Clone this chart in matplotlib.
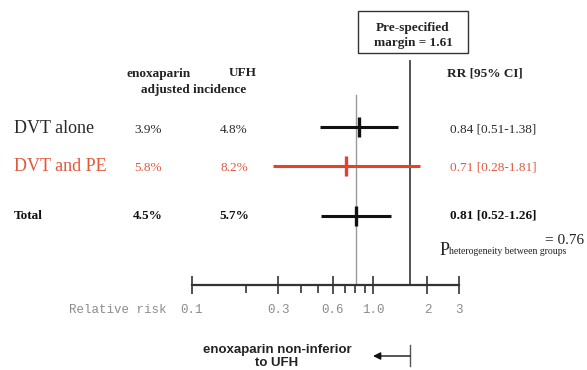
import numpy as np
import matplotlib
matplotlib.use("Agg")
import matplotlib.pyplot as plt
from matplotlib.patches import Rectangle

# data
groups = ["DVT alone", "DVT and PE", "Total"]
enox_pct = ["3.9%", "5.8%", "4.5%"]
ufh_pct = ["4.8%", "8.2%", "5.7%"]
rr = [0.84, 0.71, 0.81]
ci_low = [0.51, 0.28, 0.52]
ci_high = [1.38, 1.81, 1.26]
margin = 1.61
p_het = 0.76
major_ticks = [0.1, 0.3, 0.6, 1.0, 2, 3]
major_labels = ["0.1", "0.3", "0.6", "1.0", "2", "3"]
minor_ticks = [0.2, 0.4, 0.5, 0.7, 0.8, 0.9]

# layout (pixels from top)
row_y = [127, 166, 216]
row_base = [133, 171, 219]
colors = ["#111111", "#e8412a", "#111111"]
txt_colors = ["#2a2a2a", "#e2583b", "#111111"]
weights = ["normal", "normal", "bold"]
label_size = [13, 13, 9.5]

serif = "Liberation Serif"
mono = "Liberation Mono"
sans = "Liberation Sans"

fig = plt.figure(figsize=(5.87, 3.70), dpi=100)

# pixel axes for texts
tx = fig.add_axes([0, 0, 1, 1])
tx.set_xlim(0, 587)
tx.set_ylim(370, 0)
tx.axis("off")

# forest axes, bottom spine is the scale
W, H = 587, 370
x0, x1 = 191.7, 459.3
ytop, ybot = 55, 285
ax = fig.add_axes([x0 / W, (H - ybot) / H, (x1 - x0) / W, (ybot - ytop) / H])
ax.patch.set_alpha(0)
ax.set_xscale("log")
ax.set_xlim(0.1, 3)
ax.set_ylim(ybot, ytop)
for s in ["top", "left", "right"]:
    ax.spines[s].set_visible(False)
ax.spines["bottom"].set_linewidth(1.6)
ax.spines["bottom"].set_color("#333333")
ax.set_yticks([])
ax.set_xticks(major_ticks)
ax.set_xticklabels(major_labels, family=mono, fontsize=9, color="#8c8c8c")
ax.set_xticks(minor_ticks, minor=True)
ax.set_xticklabels([], minor=True)
ax.tick_params(axis="x", which="major", direction="inout", length=13, width=1.2,
               color="#333333", pad=7)
ax.tick_params(axis="x", which="minor", direction="out", length=6, width=1.2,
               color="#333333")

# reference lines
ax.plot([margin, margin], [61, ybot], color="#444444", lw=1.3, clip_on=False)
ax.plot([rr[2], rr[2]], [95, ybot], color="#9a9a9a", lw=1.0, clip_on=False)

# CIs and points
for i in range(len(groups)):
    ax.plot([ci_low[i], ci_high[i]], [row_y[i], row_y[i]], color=colors[i], lw=2.2,
            solid_capstyle="butt", clip_on=False)
    ax.plot([rr[i]], [row_y[i]], marker="|", markersize=15, mew=2.4,
            color=colors[i], clip_on=False)

# table texts
tx.text(159, 76.5, "enoxaparin", family=serif, weight="bold", fontsize=9.5,
        ha="center", va="baseline", color="#222222")
tx.text(243, 76.5, "UFH", family=serif, weight="bold", fontsize=9.5,
        ha="center", va="baseline", color="#222222")
tx.text(194, 93, "adjusted incidence", family=serif, weight="bold", fontsize=9.5,
        ha="center", va="baseline", color="#222222")
tx.text(447, 76, "RR [95% CI]", family=serif, weight="bold", fontsize=9.5,
        ha="left", va="baseline", color="#222222")

for i in range(len(groups)):
    tx.text(14, row_base[i], groups[i], family=serif, fontsize=label_size[i],
            weight=weights[i], color=txt_colors[i], va="baseline")
    tx.text(148, row_base[i], enox_pct[i], family=serif, fontsize=9.5,
            weight=weights[i], color=txt_colors[i], va="baseline", ha="center")
    tx.text(234, row_base[i], ufh_pct[i], family=serif, fontsize=9.5,
            weight=weights[i], color=txt_colors[i], va="baseline", ha="center")
    tx.text(450, row_base[i] - 1, f"{rr[i]:.2f} [{ci_low[i]:.2f}-{ci_high[i]:.2f}]",
            family=serif, fontsize=9.5, weight=weights[i], color=txt_colors[i],
            va="baseline", ha="left")

# margin box
tx.add_patch(Rectangle((357.7, 10.7), 110.6, 42, fill=False, edgecolor="#333333", lw=1.0))
tx.text(413, 30.7, "Pre-specified", family=serif, weight="bold", fontsize=9.5,
        ha="center", va="baseline", color="#222222")
tx.text(413, 45.7, f"margin = {margin:.2f}", family=serif, weight="bold", fontsize=9.5,
        ha="center", va="baseline", color="#222222")

# heterogeneity
tx.text(440, 255, "P", family=serif, fontsize=13, va="baseline", color="#222222")
tx.text(449, 253.5, "heterogeneity between groups", family=serif, fontsize=7,
        va="baseline", color="#222222")
tx.text(545, 244, f"= {p_het:.2f}", family=serif, fontsize=11, va="baseline",
        color="#222222")

# axis label
tx.text(69, 312.7, "Relative risk", family=mono, fontsize=9, color="#8c8c8c",
        va="baseline")

# bottom note
tx.text(277, 353, "enoxaparin non-inferior", family=sans, weight="bold", fontsize=9.5,
        ha="center", va="baseline", color="#222222")
tx.text(277, 366, "to UFH", family=sans, weight="bold", fontsize=9.5,
        ha="center", va="baseline", color="#222222")
tx.annotate("", xy=(373, 356), xytext=(410, 356),
            arrowprops=dict(arrowstyle="-|>", color="#111111", lw=1.0,
                            mutation_scale=11, shrinkA=0, shrinkB=0))
tx.plot([410, 410], [345, 366], color="#555555", lw=1.0)

fig.savefig("out.png", dpi=100)
